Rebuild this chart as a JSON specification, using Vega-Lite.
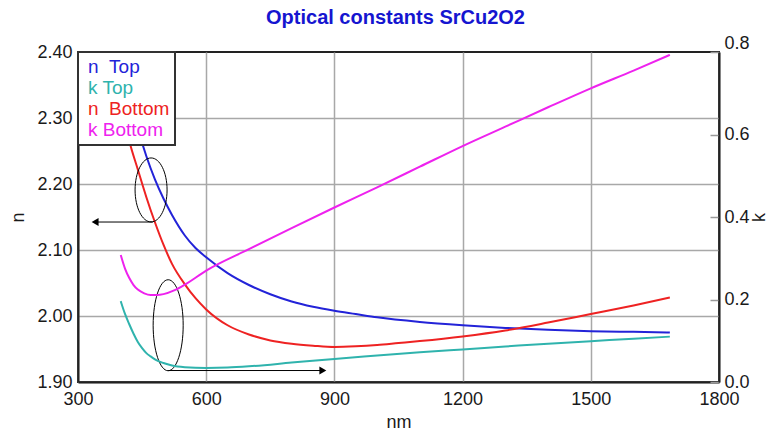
{
  "$schema": "https://vega.github.io/schema/vega-lite/v6.json",
  "width": 641,
  "height": 330,
  "autosize": "none",
  "padding": {"left": 78, "top": 52, "right": 59, "bottom": 54},
  "background": "white",
  "config": {
    "font": "Liberation Sans",
    "view": {"stroke": "#222222", "strokeWidth": 2},
    "axis": {
      "labelFont": "Liberation Sans",
      "labelFontSize": 18,
      "labelColor": "#1a1a1a",
      "titleFont": "Liberation Sans",
      "titleFontSize": 18,
      "titleFontWeight": "normal",
      "titleColor": "#1a1a1a",
      "domainColor": "#222222",
      "domainWidth": 2,
      "gridColor": "#a8a8a8",
      "gridWidth": 1.5,
      "ticks": false,
      "labelFlush": false,
      "labelOverlap": false
    }
  },
  "title": {
    "text": "Optical constants SrCu2O2",
    "color": "#1515d0",
    "font": "Liberation Sans",
    "fontSize": 20,
    "fontWeight": "bold",
    "anchor": "middle",
    "frame": "group",
    "offset": 6,
    "dx": -3
  },
  "datasets": {
    "n_curves": [
      {"nm": 400, "n": 2.395, "curve": "n Top"},
      {"nm": 420, "n": 2.335, "curve": "n Top"},
      {"nm": 440, "n": 2.284, "curve": "n Top"},
      {"nm": 460, "n": 2.242, "curve": "n Top"},
      {"nm": 480, "n": 2.207, "curve": "n Top"},
      {"nm": 500, "n": 2.178, "curve": "n Top"},
      {"nm": 520, "n": 2.153, "curve": "n Top"},
      {"nm": 550, "n": 2.122, "curve": "n Top"},
      {"nm": 575, "n": 2.103, "curve": "n Top"},
      {"nm": 600, "n": 2.089, "curve": "n Top"},
      {"nm": 650, "n": 2.065, "curve": "n Top"},
      {"nm": 700, "n": 2.047, "curve": "n Top"},
      {"nm": 750, "n": 2.033, "curve": "n Top"},
      {"nm": 800, "n": 2.022, "curve": "n Top"},
      {"nm": 850, "n": 2.014, "curve": "n Top"},
      {"nm": 900, "n": 2.008, "curve": "n Top"},
      {"nm": 950, "n": 2.003, "curve": "n Top"},
      {"nm": 1000, "n": 1.998, "curve": "n Top"},
      {"nm": 1100, "n": 1.991, "curve": "n Top"},
      {"nm": 1200, "n": 1.986, "curve": "n Top"},
      {"nm": 1300, "n": 1.982, "curve": "n Top"},
      {"nm": 1400, "n": 1.979, "curve": "n Top"},
      {"nm": 1500, "n": 1.977, "curve": "n Top"},
      {"nm": 1600, "n": 1.976, "curve": "n Top"},
      {"nm": 1685, "n": 1.975, "curve": "n Top"},
      {"nm": 400, "n": 2.325, "curve": "n Bottom"},
      {"nm": 420, "n": 2.265, "curve": "n Bottom"},
      {"nm": 440, "n": 2.222, "curve": "n Bottom"},
      {"nm": 460, "n": 2.18, "curve": "n Bottom"},
      {"nm": 480, "n": 2.142, "curve": "n Bottom"},
      {"nm": 500, "n": 2.108, "curve": "n Bottom"},
      {"nm": 520, "n": 2.079, "curve": "n Bottom"},
      {"nm": 550, "n": 2.048, "curve": "n Bottom"},
      {"nm": 575, "n": 2.027, "curve": "n Bottom"},
      {"nm": 600, "n": 2.01, "curve": "n Bottom"},
      {"nm": 650, "n": 1.986, "curve": "n Bottom"},
      {"nm": 700, "n": 1.972, "curve": "n Bottom"},
      {"nm": 750, "n": 1.963, "curve": "n Bottom"},
      {"nm": 800, "n": 1.958, "curve": "n Bottom"},
      {"nm": 850, "n": 1.955, "curve": "n Bottom"},
      {"nm": 900, "n": 1.953, "curve": "n Bottom"},
      {"nm": 950, "n": 1.954, "curve": "n Bottom"},
      {"nm": 1000, "n": 1.956, "curve": "n Bottom"},
      {"nm": 1050, "n": 1.959, "curve": "n Bottom"},
      {"nm": 1100, "n": 1.962, "curve": "n Bottom"},
      {"nm": 1200, "n": 1.969, "curve": "n Bottom"},
      {"nm": 1300, "n": 1.978, "curve": "n Bottom"},
      {"nm": 1400, "n": 1.99, "curve": "n Bottom"},
      {"nm": 1500, "n": 2.003, "curve": "n Bottom"},
      {"nm": 1600, "n": 2.016, "curve": "n Bottom"},
      {"nm": 1685, "n": 2.028, "curve": "n Bottom"}
    ],
    "k_curves": [
      {"nm": 400, "k": 0.196, "curve": "k Top"},
      {"nm": 410, "k": 0.165, "curve": "k Top"},
      {"nm": 420, "k": 0.14, "curve": "k Top"},
      {"nm": 430, "k": 0.117, "curve": "k Top"},
      {"nm": 440, "k": 0.097, "curve": "k Top"},
      {"nm": 450, "k": 0.082, "curve": "k Top"},
      {"nm": 460, "k": 0.07, "curve": "k Top"},
      {"nm": 470, "k": 0.062, "curve": "k Top"},
      {"nm": 480, "k": 0.055, "curve": "k Top"},
      {"nm": 500, "k": 0.046, "curve": "k Top"},
      {"nm": 520, "k": 0.04, "curve": "k Top"},
      {"nm": 550, "k": 0.036, "curve": "k Top"},
      {"nm": 600, "k": 0.034, "curve": "k Top"},
      {"nm": 650, "k": 0.035, "curve": "k Top"},
      {"nm": 700, "k": 0.038, "curve": "k Top"},
      {"nm": 800, "k": 0.047, "curve": "k Top"},
      {"nm": 900, "k": 0.056, "curve": "k Top"},
      {"nm": 1000, "k": 0.064, "curve": "k Top"},
      {"nm": 1100, "k": 0.072, "curve": "k Top"},
      {"nm": 1200, "k": 0.079, "curve": "k Top"},
      {"nm": 1300, "k": 0.086, "curve": "k Top"},
      {"nm": 1400, "k": 0.093, "curve": "k Top"},
      {"nm": 1500, "k": 0.099, "curve": "k Top"},
      {"nm": 1600, "k": 0.105, "curve": "k Top"},
      {"nm": 1685, "k": 0.11, "curve": "k Top"},
      {"nm": 400, "k": 0.308, "curve": "k Bottom"},
      {"nm": 410, "k": 0.275, "curve": "k Bottom"},
      {"nm": 420, "k": 0.252, "curve": "k Bottom"},
      {"nm": 430, "k": 0.235, "curve": "k Bottom"},
      {"nm": 440, "k": 0.224, "curve": "k Bottom"},
      {"nm": 455, "k": 0.215, "curve": "k Bottom"},
      {"nm": 470, "k": 0.211, "curve": "k Bottom"},
      {"nm": 485, "k": 0.211, "curve": "k Bottom"},
      {"nm": 500, "k": 0.213, "curve": "k Bottom"},
      {"nm": 525, "k": 0.222, "curve": "k Bottom"},
      {"nm": 550, "k": 0.236, "curve": "k Bottom"},
      {"nm": 600, "k": 0.27, "curve": "k Bottom"},
      {"nm": 700, "k": 0.322, "curve": "k Bottom"},
      {"nm": 800, "k": 0.373, "curve": "k Bottom"},
      {"nm": 900, "k": 0.423, "curve": "k Bottom"},
      {"nm": 1000, "k": 0.472, "curve": "k Bottom"},
      {"nm": 1100, "k": 0.522, "curve": "k Bottom"},
      {"nm": 1200, "k": 0.572, "curve": "k Bottom"},
      {"nm": 1300, "k": 0.619, "curve": "k Bottom"},
      {"nm": 1400, "k": 0.666, "curve": "k Bottom"},
      {"nm": 1500, "k": 0.712, "curve": "k Bottom"},
      {"nm": 1600, "k": 0.755, "curve": "k Bottom"},
      {"nm": 1685, "k": 0.793, "curve": "k Bottom"}
    ],
    "ellipses": [
      {"id": "upper", "nm": 471, "n": 2.191},
      {"id": "lower", "nm": 511, "n": 1.986}
    ],
    "arrows": [
      {"id": "to n axis", "nm": 475, "nm_to": 340, "n": 2.1424},
      {"id": "to k axis", "nm": 511, "nm_to": 873, "n": 1.9174}
    ]
  },
  "layer": [
    {
      "layer": [
        {
          "data": {"name": "n_curves"},
          "mark": {"type": "line", "strokeWidth": 2, "clip": true, "interpolate": "monotone"},
          "encoding": {
            "x": {
              "field": "nm", "type": "quantitative",
              "scale": {"domain": [300, 1800], "nice": false, "zero": false},
              "axis": {
                "values": [300, 600, 900, 1200, 1500, 1800],
                "format": "d",
                "grid": true,
                "title": "nm",
                "labelPadding": 8,
                "titlePadding": 5
              }
            },
            "y": {
              "field": "n", "type": "quantitative",
              "scale": {"domain": [1.9, 2.4], "nice": false, "zero": false},
              "axis": {
                "orient": "left",
                "values": [1.9, 2.0, 2.1, 2.2, 2.3, 2.4],
                "format": ".2f",
                "grid": true,
                "gridColor": {"condition": {"test": "datum.value > 2.35", "value": "transparent"}, "value": "#a8a8a8"},
                "title": "n",
                "labelPadding": 6,
                "titlePadding": 9
              }
            },
            "color": {
              "field": "curve", "type": "nominal",
              "scale": {
                "domain": ["n Top", "k Top", "n Bottom", "k Bottom"],
                "range": ["#2323d8", "#2fb3ad", "#ee2222", "#ee22ee"]
              },
              "legend": {
                "title": null,
                "orient": "top-left",
                "offset": 0,
                "fillColor": "white",
                "strokeColor": "#333333",
                "padding": 5,
                "symbolSize": 0,
                "symbolStrokeWidth": 0,
                "symbolOpacity": 0,
                "labelOffset": -14,
                "labelFont": "Liberation Sans",
                "labelFontSize": 19,
                "rowPadding": 1,
                "labelExpr": "replace(datum.label, 'n ', 'n\u00a0\u00a0')",
                "encode": {
                  "labels": {"update": {"fill": {"scale": "color", "field": "value"}}},
                  "legend": {"update": {"strokeWidth": {"value": 2}}}
                }
              }
            },
            "order": {"field": "nm", "type": "quantitative"}
          }
        },
        {
          "data": {"name": "ellipses"},
          "transform": [{"filter": "datum.id === 'upper'"}],
          "mark": {
            "type": "point",
            "shape": "M0,-1C0.276,-1,0.5,-0.552,0.5,0C0.5,0.552,0.276,1,0,1C-0.276,1,-0.5,0.552,-0.5,0C-0.5,-0.552,-0.276,-1,0,-1Z",
            "size": 4096,
            "filled": false,
            "stroke": "black",
            "strokeWidth": 1,
            "opacity": 1
          },
          "encoding": {
            "x": {"field": "nm", "type": "quantitative", "scale": {"domain": [300, 1800], "nice": false, "zero": false}},
            "y": {"field": "n", "type": "quantitative", "scale": {"domain": [1.9, 2.4], "nice": false, "zero": false}}
          }
        },
        {
          "data": {"name": "ellipses"},
          "transform": [{"filter": "datum.id === 'lower'"}],
          "mark": {
            "type": "point",
            "shape": "M0,-1C0.182,-1,0.33,-0.552,0.33,0C0.33,0.552,0.182,1,0,1C-0.182,1,-0.33,0.552,-0.33,0C-0.33,-0.552,-0.182,-1,0,-1Z",
            "size": 8281,
            "filled": false,
            "stroke": "black",
            "strokeWidth": 1,
            "opacity": 1
          },
          "encoding": {
            "x": {"field": "nm", "type": "quantitative", "scale": {"domain": [300, 1800], "nice": false, "zero": false}},
            "y": {"field": "n", "type": "quantitative", "scale": {"domain": [1.9, 2.4], "nice": false, "zero": false}}
          }
        },
        {
          "data": {"name": "arrows"},
          "mark": {"type": "rule", "color": "black", "strokeWidth": 1},
          "encoding": {
            "x": {"field": "nm", "type": "quantitative", "scale": {"domain": [300, 1800], "nice": false, "zero": false}},
            "x2": {"field": "nm_to"},
            "y": {"field": "n", "type": "quantitative", "scale": {"domain": [1.9, 2.4], "nice": false, "zero": false}}
          }
        },
        {
          "data": {"name": "arrows"},
          "transform": [{"filter": "datum.id === 'to n axis'"}],
          "mark": {"type": "point", "shape": "triangle-left", "size": 64, "filled": true, "color": "black", "opacity": 1},
          "encoding": {
            "x": {"field": "nm_to", "type": "quantitative", "title": "nm", "scale": {"domain": [300, 1800], "nice": false, "zero": false}},
            "y": {"field": "n", "type": "quantitative", "scale": {"domain": [1.9, 2.4], "nice": false, "zero": false}}
          }
        },
        {
          "data": {"name": "arrows"},
          "transform": [{"filter": "datum.id === 'to k axis'"}],
          "mark": {"type": "point", "shape": "triangle-right", "size": 64, "filled": true, "color": "black", "opacity": 1},
          "encoding": {
            "x": {"field": "nm_to", "type": "quantitative", "title": "nm", "scale": {"domain": [300, 1800], "nice": false, "zero": false}},
            "y": {"field": "n", "type": "quantitative", "scale": {"domain": [1.9, 2.4], "nice": false, "zero": false}}
          }
        }
      ]
    },
    {
      "data": {"name": "k_curves"},
      "mark": {"type": "line", "strokeWidth": 2, "clip": true, "interpolate": "monotone"},
      "encoding": {
        "x": {"field": "nm", "type": "quantitative", "scale": {"domain": [300, 1800], "nice": false, "zero": false}},
        "y": {
          "field": "k", "type": "quantitative",
          "scale": {"domain": [0, 0.8], "nice": false, "zero": false},
          "axis": {
            "orient": "right",
            "values": [0, 0.2, 0.4, 0.6, 0.8],
            "format": ".1f",
            "grid": false,
            "ticks": true,
            "tickSize": -9,
            "tickColor": "#9a9a9a",
            "tickWidth": 1.5,
            "labelPadding": 14,
            "labelBaseline": {"condition": {"test": "datum.value > 0.75", "value": "bottom"}, "value": "middle"},
            "title": "k",
            "titleAngle": 270,
            "titlePadding": 19
          }
        },
        "color": {
          "field": "curve", "type": "nominal",
          "scale": {
            "domain": ["n Top", "k Top", "n Bottom", "k Bottom"],
            "range": ["#2323d8", "#2fb3ad", "#ee2222", "#ee22ee"]
          }
        },
        "order": {"field": "nm", "type": "quantitative"}
      }
    }
  ],
  "resolve": {"scale": {"y": "independent"}}
}
